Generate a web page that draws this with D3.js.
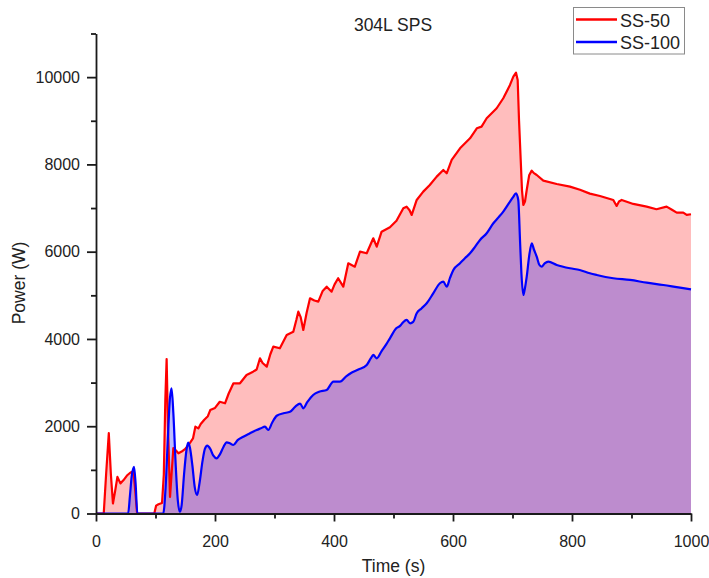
<!DOCTYPE html>
<html>
<head>
<meta charset="utf-8">
<script src="https://cdn.jsdelivr.net/npm/d3@7"></script>
<style>
  html, body { margin: 0; padding: 0; background: #fff; }
  svg { display: block; font-family: "Liberation Sans", Arial, sans-serif; }
</style>
</head>
<body>
<svg id="chart" width="709" height="578"></svg>
<script>
// Power draw during spark plasma sintering of 304L, two runs
const seriesNames = ["SS-50", "SS-100"];
const seriesColors = ["#ff0000", "#0000ff"];

// [time (s), power (W)]
const ss50 = [
  [0,0],[13,0],[17,900],[21.5,1840],[25,900],[28.5,230],[32,500],[36,840],[41,690],[46,760],
  [52,870],[58,940],[63,965],[66,520],[69,0],[98,0],[101,180],[105,210],[111,240],[114,900],
  [116.5,2600],[118.7,3540],[121,2000],[124.4,380],[127,900],[130,1500],[134,1450],[138.5,1380],
  [144,1420],[150,1480],[158,1620],[163,1720],[167,1990],[172,1950],[176,2050],[182,2150],
  [188,2230],[192,2370],[200,2420],[208,2560],[216.8,2526],[223,2750],[231,2984],[242,2984],
  [253,3175],[264,3250],[270,3300],[275.6,3557],[280,3450],[287,3365],[293,3650],[298,3823],
  [309,3786],[320.5,4091],[331.6,4167],[337,4450],[340,4625],[344,4500],[348.4,4206],[354,4600],
  [359.7,4932],[367,4880],[373.6,4855],[381,5100],[387.7,5198],[396,5084],[401,5250],[407,5391],
  [415.6,5198],[424,5734],[435,5657],[443.7,6001],[455,5963],[466,6307],[471.8,6115],[480,6459],
  [494,6560],[505,6710],[516.5,6995],[522,7032],[527,6950],[530.6,6842],[539,7185],[550,7376],
  [561,7529],[572.6,7720],[583.7,7873],[589.4,7797],[597.8,8102],[611.8,8370],[628.6,8599],
  [640,8828],[648,8866],[656.6,9057],[673.4,9287],[684.5,9516],[695.8,9821],[701.4,10011],
  [705.9,10103],[708.7,9936],[711,9000],[713.8,8102],[716,7400],[718.2,7071],[721,7150],
  [723.9,7414],[728,7750],[732.3,7857],[736,7800],[740.7,7758],[751.8,7628],[774.3,7552],
  [796.6,7490],[813.4,7420],[830,7330],[847,7277],[869.4,7185],[875,7048],[879,7150],
  [883.5,7185],[903,7094],[925.5,7032],[942,6972],[959,7032],[968,6960],[976,6895],[987,6895],
  [992.8,6842],[1000,6858]
];

const ss100 = [
  [0,0],[54,0],[57,400],[60,850],[63.9,1070],[66.5,700],[69.5,0],[113,0],[117,600],[121,1800],
  [124,2600],[127,2869],[130,2300],[134,1100],[137.5,300],[141,40],[144,200],[148,900],
  [152,1450],[155,1623],[158,1500],[162,1100],[166,600],[170,424],[174,700],[179,1200],
  [183,1480],[187,1554],[192,1480],[197,1330],[202.8,1265],[208,1350],[214,1520],[219.6,1632],
  [225,1610],[230.8,1570],[238,1680],[247.6,1760],[258.8,1838],[270,1914],[277,1952],[284,1990],
  [289.6,1914],[296,2080],[303.8,2240],[315,2296],[326,2330],[335,2450],[343,2520],[348.4,2411],
  [355,2550],[365,2716],[375,2790],[387.7,2831],[399,3021],[410,3021],[421,3150],[430,3230],
  [441,3300],[455,3404],[462,3560],[466,3633],[471.8,3557],[480,3720],[488,3880],[494,4015],
  [505,4250],[511,4300],[516,4380],[522,4435],[528,4359],[533,4390],[539,4588],[547,4700],
  [555.8,4818],[567,5050],[578,5276],[583.7,5313],[589.4,5198],[595,5400],[600.6,5581],
  [611.8,5734],[620,5850],[628.6,5963],[637,6110],[645.4,6269],[656.6,6422],[667.8,6651],
  [676,6780],[684.5,6918],[695.8,7147],[701,7250],[705.9,7339],[709.7,7185],[712.6,6269],
  [715,5500],[718.2,5008],[720,5100],[723.9,5427],[728,5900],[732.3,6193],[736,6050],
  [740.7,5886],[745,5700],[749,5657],[754,5730],[760.2,5771],[774.3,5696],[796.6,5620],
  [813,5581],[830,5505],[841.5,5466],[869.4,5391],[897.5,5352],[925.5,5290],[953.5,5237],
  [981.5,5175],[1000,5138]
];

const xMajorTicks = [0, 200, 400, 600, 800, 1000];
const xMinorTicks = [100, 300, 500, 700, 900];
const yMajorTicks = [0, 2000, 4000, 6000, 8000, 10000];
const yMinorTicks = [1000, 3000, 5000, 7000, 9000, 11000];

const svg = d3.select("#chart");
const plot = { left: 96, right: 691, top: 33.5, bottom: 513.5 };

const x = d3.scaleLinear().domain([0, 1000]).range([plot.left, plot.right]);
const y = d3.scaleLinear().domain([0, 11000]).range([plot.bottom, plot.top]);

// SS-50 trace is jagged, SS-100 is smooth
const curves = [d3.curveLinear, d3.curveMonotoneX];
const allSeries = [ss50, ss100];

const areaFor = i => d3.area()
  .curve(curves[i])
  .x(d => x(d[0])).y0(y(0)).y1(d => y(d[1]));
const lineFor = i => d3.line()
  .curve(curves[i])
  .x(d => x(d[0])).y(d => y(d[1]));

// filled areas (translucent), SS-50 underneath
svg.append("g").selectAll("path")
  .data(allSeries)
  .join("path")
  .attr("d", (d, i) => areaFor(i)(d))
  .attr("fill", (d, i) => seriesColors[i])
  .attr("fill-opacity", 0.26)
  .attr("stroke", "none");

// outlines on top
svg.append("g").selectAll("path")
  .data(allSeries)
  .join("path")
  .attr("d", (d, i) => lineFor(i)(d))
  .attr("fill", "none")
  .attr("stroke", (d, i) => seriesColors[i])
  .attr("stroke-width", 2.2)
  .attr("stroke-linejoin", "round");

// axes
const axisColor = "#1a1a1a";
svg.append("g").attr("transform", `translate(0,${plot.bottom})`)
  .call(d3.axisBottom(x).tickValues(xMajorTicks).tickSize(8).tickSizeOuter(0).tickPadding(14)
    .tickFormat(d3.format("d")));
svg.append("g").attr("transform", `translate(0,${plot.bottom})`)
  .call(d3.axisBottom(x).tickValues(xMinorTicks).tickSize(5).tickSizeOuter(0).tickFormat(""))
  .call(g => g.select(".domain").remove());

svg.append("g").attr("transform", `translate(${plot.left},0)`)
  .call(d3.axisLeft(y).tickValues(yMajorTicks).tickSize(9).tickSizeOuter(0).tickPadding(7)
    .tickFormat(d3.format("d")));
svg.append("g").attr("transform", `translate(${plot.left},0)`)
  .call(d3.axisLeft(y).tickValues(yMinorTicks).tickSize(5).tickSizeOuter(0).tickFormat(""))
  .call(g => g.select(".domain").remove());

svg.selectAll(".domain, .tick line")
  .attr("stroke", axisColor).attr("stroke-width", 1.8);
svg.selectAll(".tick text")
  .attr("fill", "#222").attr("font-size", 16)
  .attr("font-family", "'Liberation Sans', Arial, sans-serif");

// titles
svg.append("text")
  .attr("x", 393).attr("y", 31)
  .attr("text-anchor", "middle")
  .attr("font-size", 17.5).attr("fill", "#222")
  .text("304L SPS");

svg.append("text")
  .attr("x", (plot.left + plot.right) / 2).attr("y", 572)
  .attr("text-anchor", "middle")
  .attr("font-size", 17.5).attr("fill", "#222")
  .text("Time (s)");

svg.append("text")
  .attr("transform", "translate(25,283) rotate(-90)")
  .attr("text-anchor", "middle")
  .attr("font-size", 17.5).attr("fill", "#222")
  .text("Power (W)");

// legend
const legend = svg.append("g");
legend.append("rect")
  .attr("x", 573.5).attr("y", 7.5).attr("width", 111).attr("height", 46.5)
  .attr("fill", "#fff").attr("stroke", "#8a8a8a").attr("stroke-width", 1);
const legendRows = legend.selectAll("g.row")
  .data(seriesNames)
  .join("g")
  .attr("class", "row")
  .attr("transform", (d, i) => `translate(0,${19.5 + i * 22.5})`);
legendRows.append("line")
  .attr("x1", 576).attr("x2", 617).attr("y1", 0).attr("y2", 0)
  .attr("stroke", (d, i) => seriesColors[i]).attr("stroke-width", 2.5);
legendRows.append("text")
  .attr("x", 620).attr("y", 7)
  .attr("font-size", 18).attr("fill", "#222")
  .text(d => d);
</script>
</body>
</html>
